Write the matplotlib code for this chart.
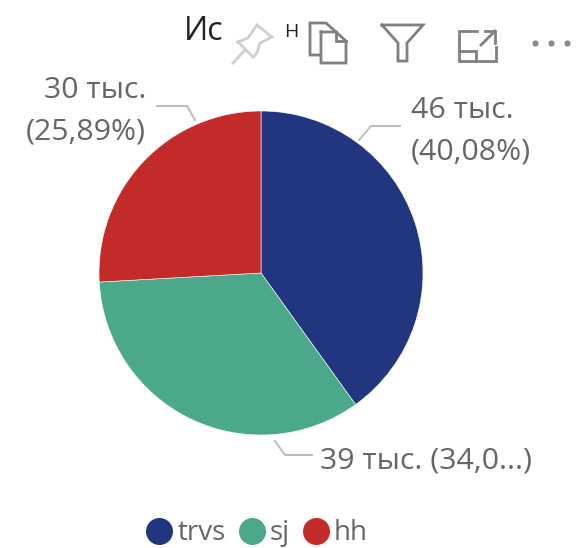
import matplotlib
matplotlib.use('Agg')
import matplotlib.pyplot as plt

plt.rcParams['font.family'] = ['Open Sans', 'DejaVu Sans']

categories = ['trvs', 'sj', 'hh']
values = [40.08, 34.03, 25.89]
colors = ['#21367F', '#4CA88B', '#C32A2A']
label_lines = ['46 тыс.\n(40,08%)', '39 тыс. (34,0...)', '30 тыс.\n(25,89%)']

W, H = 578, 548
fig = plt.figure(figsize=(W / 100, H / 100), dpi=100)

# overlay in pixel coords for title, icons, labels
ov = fig.add_axes([0, 0, 1, 1])
ov.set_xlim(0, W)
ov.set_ylim(H, 0)
ov.axis('off')

# pie
R = 162
cx, cy = 261, 273
ax = fig.add_axes([(cx - R) / W, 1 - (cy + R) / H, 2 * R / W, 2 * R / H])
ax.pie(values, colors=colors, startangle=90, counterclock=False, radius=1,
       wedgeprops={'linewidth': 0.4, 'edgecolor': 'white'})
ax.set_xlim(-1, 1)
ax.set_ylim(-1, 1)

grey = '#666666'
lbl = 21.8

# data labels and leaders
ov.text(411, 110, label_lines[0].split('\n')[0], fontsize=lbl, color=grey, va='center', ha='left')
ov.text(411, 152, label_lines[0].split('\n')[1], fontsize=lbl, color=grey, va='center', ha='left')
ov.text(320, 461, label_lines[1], fontsize=lbl, color=grey, va='center', ha='left')
ov.text(146, 90, label_lines[2].split('\n')[0], fontsize=lbl, color=grey, va='center', ha='right')
ov.text(146, 132, label_lines[2].split('\n')[1], fontsize=lbl, color=grey, va='center', ha='right')

leader = '#bdbdbd'
ov.plot([400, 371, 359], [126, 126, 140], color=leader, lw=1.4)
ov.plot([312, 285, 275], [455, 455, 441], color=leader, lw=1.4)
ov.plot([157, 187, 195], [106, 106, 120], color=leader, lw=1.4)

# title pieces behind the visual header
ov.text(184, 32, 'Ис', fontsize=23, color='#222222', va='center', ha='left')
ov.text(284, 32, 'Н', fontsize=14, color='#222222', va='center', ha='left')

# header icons
icon = '#808080'
def poly(xs, ys, color=icon, lw=2.0):
    ov.plot(xs, ys, color=color, lw=lw, solid_joinstyle='miter')

pin = '#cfcfcf'
poly([238, 248, 257, 272, 260, 257, 253, 238], [42, 38, 25, 37, 43, 53, 57, 42], pin)
poly([233, 245], [63, 50], pin)
poly([320, 310, 310, 326, 336], [55, 55, 23, 23, 32])
poly([321, 336, 346, 346, 321, 321], [32, 32, 41, 63, 63, 32])
poly([336, 336, 346], [32, 41, 41])
poly([382, 423, 407, 407, 398, 398, 382], [25, 25, 43, 61, 61, 43, 25])
poly([477, 459, 459, 496, 496], [31, 31, 61, 61, 47])
poly([459, 476, 476], [51, 51, 61])
poly([481, 495], [45, 31])
poly([485, 495, 495], [31, 31, 43])
ov.scatter([535, 551, 567], [43, 43, 43], s=20, color='#8a8a8a', linewidths=0)

# legend
leg_x = [159, 252, 316]
text_x = [178, 270, 334]
for name, col, mx, tx in zip(categories, colors, leg_x, text_x):
    ov.scatter([mx], [531], s=378, color=col, linewidths=0)
    ov.text(tx, 533, name, fontsize=20, color=grey, va='center', ha='left')

fig.savefig('out.png', dpi=100)
